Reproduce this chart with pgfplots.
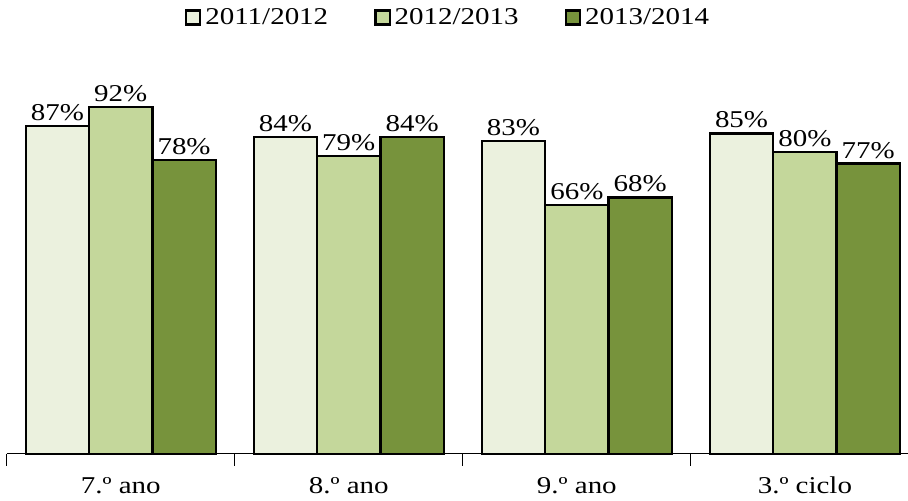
\documentclass[border=0pt]{standalone}
\usepackage{pgfplots}
\pgfplotsset{compat=1.18}
\usepackage{fontspec}
\setmainfont{Liberation Serif}[FakeStretch=1.2]
\definecolor{cA}{HTML}{EBF1DE}
\definecolor{cB}{HTML}{C4D79B}
\definecolor{cC}{HTML}{77933C}
\begin{document}
\begin{tikzpicture}[font=\fontsize{12}{14.4}\selectfont]
\begin{axis}[
  scale only axis,
  width=448pt, height=187.5pt,
  ybar=0pt, bar width=31.5pt,
  xmin=-0.5, xmax=3.45, ymin=0, ymax=100,
  axis x line=bottom, axis y line=none,
  x axis line style={-, line width=0.5pt},
  /pgf/number format/assume math mode=true,
  xtick={0,1,2,3},
  xticklabels={7.º ano, 8.º ano, 9.º ano, 3.º ciclo},
  major tick length=0pt,
  xticklabel style={yshift=-8pt},
  extra x ticks={-0.5,0.5,1.5,2.5},
  extra x tick labels={},
  extra x tick style={major tick length=6pt, tick style={line width=0.5pt, black}, tick align=outside},
  nodes near coords={\pgfmathprintnumber{\pgfplotspointmeta}\%},
  every node near coord/.append style={font=\fontsize{12}{14.4}\selectfont, black, inner sep=2pt},
  clip=false,
  legend columns=3,
  legend style={draw=none, fill=none, at={(0.5,1)}, anchor=center, yshift=29.5pt, xshift=-4pt,
    /tikz/every even column/.append style={column sep=21pt},
    font=\fontsize{12}{14.4}\selectfont},
  legend image code/.code={\draw[#1, draw=black, line width=1.1pt] (0pt,-3.5pt) rectangle (7pt,3.5pt);},
]
\addplot[fill=cA, draw=black, line width=1.2pt] coordinates {(0,87) (1,84) (2,83) (3,85)};
\addplot[fill=cB, draw=black, line width=1.2pt] coordinates {(0,92) (1,79) (2,66) (3,80)};
\addplot[fill=cC, draw=black, line width=1.2pt] coordinates {(0,78) (1,84) (2,68) (3,77)};
\legend{2011/2012, 2012/2013, 2013/2014}
\end{axis}
\end{tikzpicture}
\end{document}
